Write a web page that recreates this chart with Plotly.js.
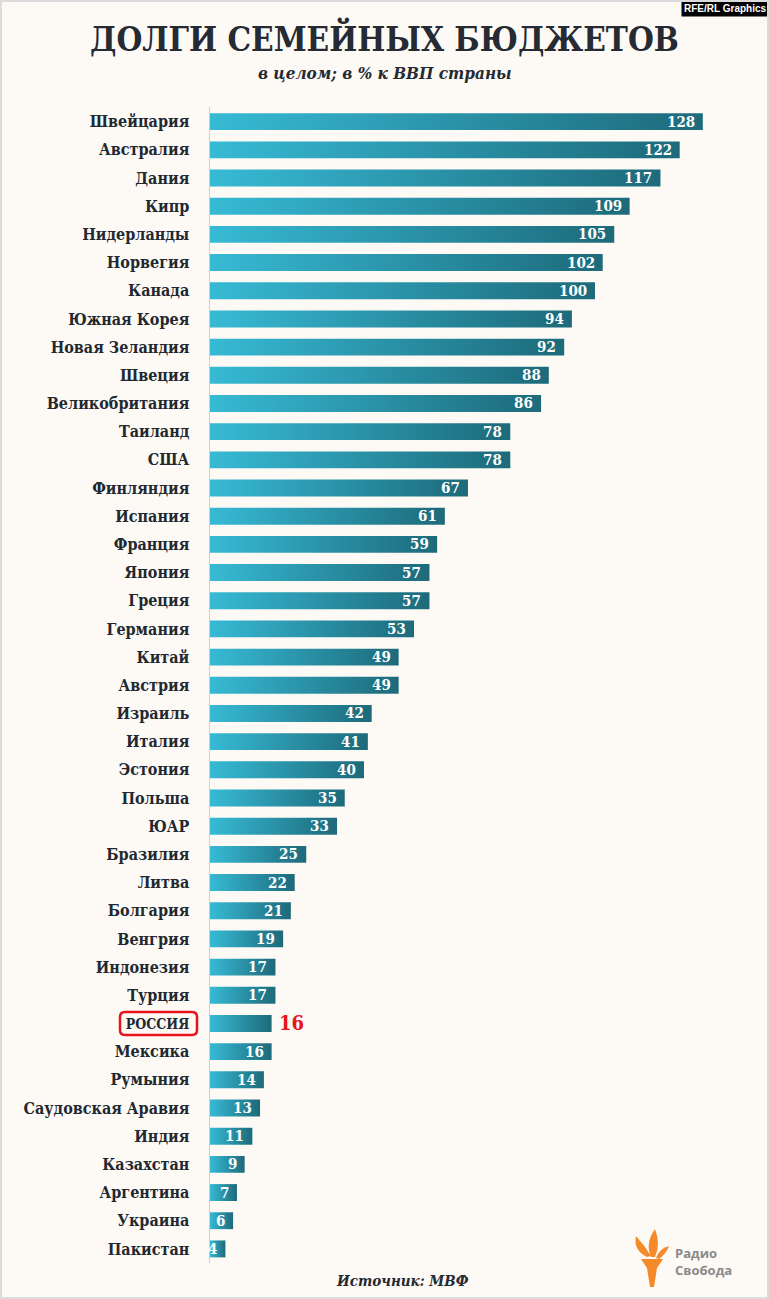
<!DOCTYPE html>
<html><head><meta charset="utf-8">
<script src="https://cdn.plot.ly/plotly-3.0.1.min.js"></script>
<style>
html,body{margin:0;padding:0;background:#fdfaf6;}
#wrap{position:relative;width:769px;height:1299px;}
#chart{width:769px;height:1299px;}
#frame{position:absolute;left:0;top:0;width:769px;height:1299px;box-sizing:border-box;border:2px solid #dcdcdc;pointer-events:none;}
</style></head>
<body><div id="wrap"><div id="chart"></div><div id="frame"></div></div>
<script>
const countries = ["Швейцария","Австралия","Дания","Кипр","Нидерланды","Норвегия","Канада","Южная Корея","Новая Зеландия","Швеция","Великобритания","Таиланд","США","Финляндия","Испания","Франция","Япония","Греция","Германия","Китай","Австрия","Израиль","Италия","Эстония","Польша","ЮАР","Бразилия","Литва","Болгария","Венгрия","Индонезия","Турция","РОССИЯ","Мексика","Румыния","Саудовская Аравия","Индия","Казахстан","Аргентина","Украина","Пакистан"];
const debtPctGdp = [128,122,117,109,105,102,100,94,92,88,86,78,78,67,61,59,57,57,53,49,49,42,41,40,35,33,25,22,21,19,17,17,16,16,14,13,11,9,7,6,4];
const highlight = "РОССИЯ";
const titleText = "ДОЛГИ СЕМЕЙНЫХ БЮДЖЕТОВ";
const subtitleText = "в целом; в % к ВВП страны";
const sourceText = "Источник: МВФ";

// layout geometry (pixels)
const L = 210, R = 40, T = 107, B = 36, W = 769 - L - R, H = 1299 - T - B;
const px2x = p => (p - L) / W;
const py2y = p => 1 - (p - T) / H;

const serif = "DejaVu Serif Condensed, DejaVu Serif";
const half = 0.3;
const traces = [];
countries.forEach((c, i) => {
  const v = debtPctGdp[i];
  traces.push({
    type: 'scatter', mode: 'lines',
    x: [0, v, v, 0, 0],
    y: [i - half, i - half, i + half, i + half, i - half],
    fill: 'toself',
    line: {width: 0, color: 'rgba(0,0,0,0)'},
    fillcolor: '#2a97ad',
    fillgradient: {type: 'horizontal', colorscale: [[0, '#37bad5'], [1, '#1d6a7a']]},
    hoverinfo: 'skip', showlegend: false
  });
});

const annotations = [];
countries.forEach((c, i) => {
  const isH = c === highlight;
  annotations.push({
    x: debtPctGdp[i], y: i, xref: 'x', yref: 'y',
    text: String(debtPctGdp[i]), showarrow: false,
    xanchor: isH ? 'left' : 'right', yanchor: 'middle',
    xshift: isH ? 5 : -6,
    font: {family: serif, size: isH ? 20 : 15, color: isH ? '#e8141b' : '#ffffff', weight: 'bold'}
  });
});
// title, subtitle, source, credit, logo text
annotations.push({xref: 'paper', yref: 'paper', x: px2x(384), y: py2y(38), text: titleText, showarrow: false,
  xanchor: 'center', yanchor: 'middle', font: {family: serif, size: 33, color: '#252a33', weight: 'bold'}});
annotations.push({xref: 'paper', yref: 'paper', x: px2x(385), y: py2y(73), text: '<i>' + subtitleText + '</i>', showarrow: false,
  xanchor: 'center', yanchor: 'middle', font: {family: serif, size: 17, color: '#252a33', weight: 'bold'}});
annotations.push({xref: 'paper', yref: 'paper', x: px2x(402), y: py2y(1281), text: '<i>' + sourceText + '</i>', showarrow: false,
  xanchor: 'center', yanchor: 'middle', font: {family: serif, size: 15, color: '#252a33', weight: 'bold'}});
annotations.push({xref: 'paper', yref: 'paper', x: px2x(769), y: py2y(0), text: 'RFE/RL Graphics', showarrow: false,
  xanchor: 'right', yanchor: 'top', bgcolor: '#000000', borderpad: 2,
  font: {family: 'Liberation Sans Narrow, Liberation Sans, Arial', size: 10, color: '#ffffff', weight: 'bold'}});
annotations.push({xref: 'paper', yref: 'paper', x: px2x(673), y: py2y(1261), text: 'Радио<br>Свобода', showarrow: false,
  xanchor: 'left', yanchor: 'middle', align: 'left',
  font: {family: 'Open Sans, DejaVu Sans', size: 13, color: '#8a8a8a', weight: 'bold'}});

// decorative shapes
const P = (x, y) => px2x(x).toFixed(5) + ',' + py2y(y).toFixed(5);
const ri = countries.indexOf(highlight);
function roundRect(x0, x1, yc, hh, r) {
  const rx = r / W, ry = r / 28.19;
  const a = px2x(x0), b = px2x(x1), t = yc - hh, u = yc + hh;
  return {type: 'path', xref: 'paper', yref: 'y',
    path: `M${a + rx},${t} L${b - rx},${t} Q${b},${t} ${b},${t + ry} L${b},${u - ry} Q${b},${u} ${b - rx},${u} L${a + rx},${u} Q${a},${u} ${a},${u - ry} L${a},${t + ry} Q${a},${t} ${a + rx},${t} Z`,
    line: {color: '#e8141b', width: 2.5}, fillcolor: 'rgba(0,0,0,0)'};
}
const shapes = [
  roundRect(120, 197, ri, 0.41, 5),
  {type: 'path', xref: 'paper', yref: 'paper', fillcolor: '#f58a2a', line: {width: 0},
    path: `M${P(641,1259)} L${P(663,1259)} L${P(657,1268)} L${P(654,1287)} L${P(650,1287)} L${P(647,1268)} Z`},
  {type: 'path', xref: 'paper', yref: 'paper', fillcolor: '#f58a2a', line: {width: 0},
    path: `M${P(647,1257)} Q${P(633,1250)} ${P(636,1236)} Q${P(645,1246)} ${P(651,1256)} Z`},
  {type: 'path', xref: 'paper', yref: 'paper', fillcolor: '#f58a2a', line: {width: 0},
    path: `M${P(651,1257)} Q${P(645,1243)} ${P(655,1229)} Q${P(661,1244)} ${P(655,1257)} Z`},
  {type: 'path', xref: 'paper', yref: 'paper', fillcolor: '#f58a2a', line: {width: 0},
    path: `M${P(656,1258)} Q${P(660,1248)} ${P(669,1246)} Q${P(666,1254)} ${P(659,1259)} Z`}
];

const tickText = countries.map(c => c === highlight ? '<span style="font-size:14px">' + c + '</span>' : c);

const layout = {
  width: 769, height: 1299,
  margin: {l: L, r: R, t: T, b: B},
  paper_bgcolor: '#fdfaf6', plot_bgcolor: '#fdfaf6',
  showlegend: false,
  xaxis: {range: [0, W / 3.85], visible: false, fixedrange: true},
  yaxis: {range: [40.5, -0.52], tickvals: countries.map((c, i) => i), ticktext: tickText,
    showgrid: false, zeroline: false, showline: true, linecolor: '#cfcfcf', linewidth: 1.5,
    ticks: 'outside', ticklen: 16, tickcolor: 'rgba(0,0,0,0)',
    tickfont: {family: serif, size: 16, color: '#222830', weight: 'bold'}, fixedrange: true},
  annotations: annotations,
  shapes: shapes
};
Plotly.newPlot('chart', traces, layout, {displayModeBar: false, staticPlot: true});
</script></body></html>
